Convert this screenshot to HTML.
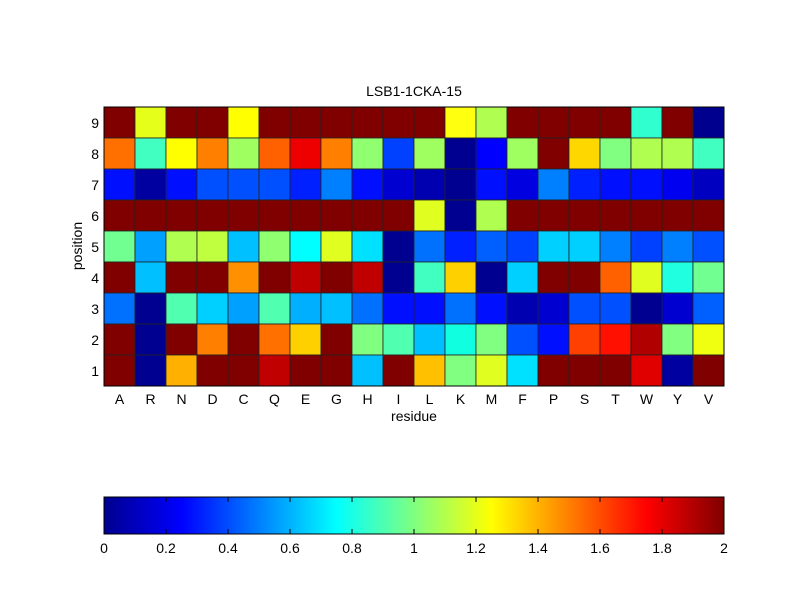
<!DOCTYPE html>
<html><head><meta charset="utf-8"><style>
html,body{margin:0;padding:0;background:#fff;}
svg text{font-family:"Liberation Sans",sans-serif;font-size:14px;fill:#000;}
</style></head><body>
<svg id="s" width="800" height="600" xmlns="http://www.w3.org/2000/svg">
<rect width="800" height="600" fill="#fff"/>
<defs><linearGradient id="jet" x1="0" x2="1" y1="0" y2="0">
<stop offset="0" stop-color="#00008f"/><stop offset="0.125" stop-color="#0000ff"/>
<stop offset="0.375" stop-color="#00ffff"/><stop offset="0.625" stop-color="#ffff00"/>
<stop offset="0.875" stop-color="#ff0000"/><stop offset="1" stop-color="#800000"/>
</linearGradient></defs>
<g id="cells"></g>
<rect x="104" y="107" width="620" height="279" fill="none" stroke="#000" stroke-width="1"/>
<text x="414" y="96" text-anchor="middle">LSB1-1CKA-15</text>
<g text-anchor="end">
<text x="99" y="128">9</text><text x="99" y="159">8</text><text x="99" y="190">7</text>
<text x="99" y="221">6</text><text x="99" y="252">5</text><text x="99" y="283">4</text>
<text x="99" y="314">3</text><text x="99" y="345">2</text><text x="99" y="376">1</text>
</g>
<text transform="translate(82,246) rotate(-90)" text-anchor="middle">position</text>
<g text-anchor="middle">
<text x="119.5" y="404">A</text><text x="150.5" y="404">R</text><text x="181.5" y="404">N</text><text x="212.5" y="404">D</text><text x="243.5" y="404">C</text>
<text x="274.5" y="404">Q</text><text x="305.5" y="404">E</text><text x="336.5" y="404">G</text><text x="367.5" y="404">H</text><text x="398.5" y="404">I</text>
<text x="429.5" y="404">L</text><text x="460.5" y="404">K</text><text x="491.5" y="404">M</text><text x="522.5" y="404">F</text><text x="553.5" y="404">P</text>
<text x="584.5" y="404">S</text><text x="615.5" y="404">T</text><text x="646.5" y="404">W</text><text x="677.5" y="404">Y</text><text x="708.5" y="404">V</text>
<text x="414" y="421">residue</text>
</g>
<rect x="104" y="497" width="620" height="37" fill="url(#jet)" stroke="#000" stroke-width="1"/>
<g id="cbt" stroke="#000" stroke-width="1"></g>
<g text-anchor="middle">
<text x="104" y="553">0</text><text x="166" y="553">0.2</text><text x="228" y="553">0.4</text><text x="290" y="553">0.6</text>
<text x="352" y="553">0.8</text><text x="414" y="553">1</text><text x="476" y="553">1.2</text><text x="538" y="553">1.4</text>
<text x="600" y="553">1.6</text><text x="662" y="553">1.8</text><text x="724" y="553">2</text>
</g>
</svg>
<script>
var D="800000";
var rows=[
[D,"e6ff1a",D,D,"ffff00",D,D,D,D,D,D,"ffff10","b0ff50",D,D,D,D,"30ffd0",D,"00008f"],
["ff7000","40ffc0","ffff00","ff8000","a0ff60","ff6000","ef0000","ff8000","90ff70","0040ff","a0ff60","000090","0000ff","a0ff60",D,"ffd700","80ff80","b0ff50","b0ff50","40ffc0"],
["0010ff","0000a0","0010ff","0050ff","0050ff","0050ff","0020ff","0080ff","0010ff","0000d0","0000b0","000090","0010ff","0000e0","0080ff","0020ff","0010ff","0010ff","0000f0","0000c0"],
[D,D,D,D,D,D,D,D,D,D,"e0ff20","000090","b0ff50",D,D,D,D,D,D,D],
["70ff90","00a0ff","b0ff50","c0ff40","00c0ff","90ff70","00ffff","e0ff20","00e0ff","000090","0070ff","0020ff","0060ff","0040ff","00d0ff","00d0ff","0080ff","0040ff","0080ff","0050ff"],
[D,"00c0ff",D,D,"ff9000",D,"c00000",D,"c00000","000090","40ffc0","ffd000","000090","00d0ff",D,D,"ff6000","e0ff20","20ffe0","70ff90"],
["0070ff","000090","50ffb0","00d0ff","00a0ff","50ffb0","00b0ff","00c0ff","0070ff","0010ff","0010ff","0070ff","0010ff","0000b0","0000d0","0050ff","0050ff","000090","0000d0","0060ff"],
[D,"000090",D,"ff8000",D,"ff7000","ffd000",D,"80ff80","50ffb0","00c0ff","10ffe0","80ff80","0050ff","0010ff","ff4000","ff1000","b00000","80ff80","f0ff10"],
[D,"000090","ffb000",D,D,"c00000",D,D,"00c0ff",D,"ffc000","80ff80","e0ff20","00e0ff",D,D,D,"e00000","0000a0",D]];
var g=document.getElementById("cells"),h="";
for(var r=0;r<9;r++)for(var c=0;c<20;c++){
h+='<rect x="'+(104+c*31)+'" y="'+(107+r*31)+'" width="31" height="31" fill="#'+rows[r][c]+'" stroke="#222" stroke-width="0.8"/>';}
g.innerHTML=h;
var t="";for(var k=1;k<10;k++){var x=104+62*k;t+='<line x1="'+x+'" y1="497" x2="'+x+'" y2="502"/><line x1="'+x+'" y1="529" x2="'+x+'" y2="534"/>';}
document.getElementById("cbt").innerHTML=t;
</script>
</body></html>
